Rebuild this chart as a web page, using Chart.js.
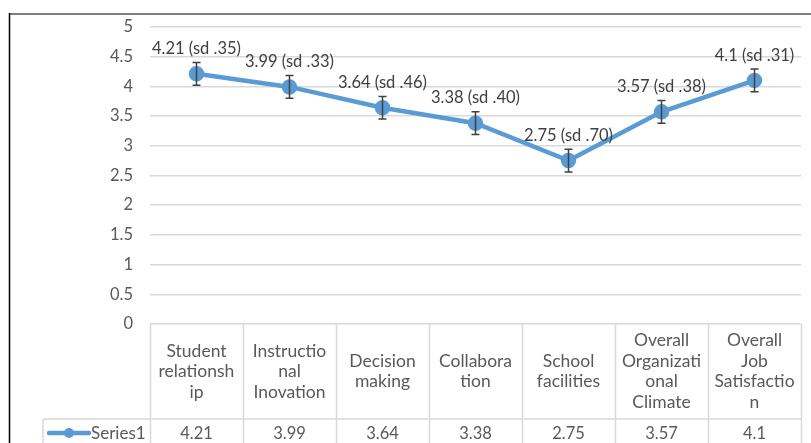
<!DOCTYPE html>
<html>
<head>
<meta charset="utf-8">
<script src="https://cdn.jsdelivr.net/npm/chart.js@4"></script>
<style>
  html, body { margin: 0; padding: 0; background: #fff; }
  #wrap { width: 811px; height: 443px; position: relative; }
</style>
</head>
<body>
<div id="wrap"><canvas id="chart"></canvas></div>
<script>
// category names, wrapped as in the data table
var categories = [
    ["Student", "relationsh", "ip"],
    ["Instructio", "nal", "Inovation"],
    ["Decision", "making"],
    ["Collabora", "tion"],
    ["School", "facilities"],
    ["Overall", "Organizati", "onal", "Climate"],
    ["Overall", "Job", "Satisfactio", "n"]
];
var series1 = [4.21, 3.99, 3.64, 3.38, 2.75, 3.57, 4.1];
var sdText = [".35", ".33", ".46", ".40", ".70", ".38", ".31"];
var errorValues = [0.19, 0.19, 0.19, 0.19, 0.19, 0.19, 0.19];
var yTicks = [0, 0.5, 1, 1.5, 2, 2.5, 3, 3.5, 4, 4.5, 5];

var FONT = "Lato, sans-serif";
var blue = "#5b9bd5";
var gridColor = "#d9d9d9";
var textColor = "#595959";

// frame, error bars, point labels and the data table under the plot
var excelBits = {
    id: 'excelBits',
    beforeDraw: function(chart) {
        var ctx = chart.ctx;
        ctx.save();
        ctx.fillStyle = "#fff";
        ctx.fillRect(0, 0, chart.width, chart.height);
        ctx.strokeStyle = "#808080";
        ctx.lineWidth = 2;
        ctx.beginPath();
        ctx.moveTo(9, 14);
        ctx.lineTo(chart.width, 14);
        ctx.stroke();
        ctx.strokeStyle = "#000";
        ctx.lineWidth = 1.5;
        ctx.beginPath();
        ctx.moveTo(9.5, 13);
        ctx.lineTo(9.5, chart.height);
        ctx.stroke();
        ctx.restore();
    },
    afterDatasetsDraw: function(chart) {
        var ctx = chart.ctx;
        var x = chart.scales.x, y = chart.scales.y;
        var area = chart.chartArea;
        ctx.save();

        // error bars
        ctx.strokeStyle = "#404040";
        ctx.lineWidth = 1.5;
        series1.forEach(function(v, i) {
            var px = x.getPixelForValue(i);
            var top = y.getPixelForValue(v + errorValues[i]);
            var bot = y.getPixelForValue(v - errorValues[i]);
            ctx.beginPath();
            ctx.moveTo(px, top); ctx.lineTo(px, bot);
            ctx.moveTo(px - 4, top); ctx.lineTo(px + 4, top);
            ctx.moveTo(px - 4, bot); ctx.lineTo(px + 4, bot);
            ctx.stroke();
        });

        // point labels
        ctx.fillStyle = "#404040";
        ctx.font = "16.5px " + FONT;
        ctx.textAlign = "center";
        ctx.textBaseline = "middle";
        series1.forEach(function(v, i) {
            var px = x.getPixelForValue(i);
            var py = y.getPixelForValue(v);
            ctx.fillText(v + " (sd " + sdText[i] + ")", px, py - 25);
        });

        // data table
        var colW = (area.right - area.left) / categories.length;
        var headTop = area.bottom;
        var headBot = headTop + 95;
        var legendLeft = 43;
        ctx.strokeStyle = gridColor;
        ctx.lineWidth = 1.5;
        ctx.beginPath();
        for (var c = 0; c <= categories.length; c++) {
            var lx = Math.round(area.left + c * colW) + 0.5;
            ctx.moveTo(lx, headTop);
            ctx.lineTo(lx, chart.height);
        }
        ctx.moveTo(legendLeft, headBot);
        ctx.lineTo(area.right, headBot);
        ctx.moveTo(legendLeft, headBot);
        ctx.lineTo(legendLeft, chart.height);
        ctx.stroke();

        ctx.fillStyle = textColor;
        ctx.font = "17.5px " + FONT;
        var lh = 20.5;
        categories.forEach(function(lines, i) {
            var cx = x.getPixelForValue(i);
            var mid = (headTop + headBot) / 2;
            var start = mid - (lines.length - 1) * lh / 2;
            lines.forEach(function(t, k) {
                ctx.fillText(t, cx, start + k * lh);
            });
        });
        ctx.font = "16.5px " + FONT;
        series1.forEach(function(v, i) {
            ctx.fillText(String(v), x.getPixelForValue(i), headBot + 15);
        });

        // legend key in the table
        var ky = headBot + 14;
        ctx.strokeStyle = blue;
        ctx.lineWidth = 4.5;
        ctx.lineCap = "round";
        ctx.beginPath();
        ctx.moveTo(49, ky); ctx.lineTo(89, ky);
        ctx.stroke();
        ctx.fillStyle = blue;
        ctx.beginPath();
        ctx.arc(69, ky, 5, 0, Math.PI * 2);
        ctx.fill();
        ctx.fillStyle = textColor;
        ctx.textAlign = "left";
        ctx.font = "17px " + FONT;
        ctx.fillText("Series1", 91, ky + 1);

        ctx.restore();
    }
};

new Chart(document.getElementById('chart'), {
    type: 'line',
    data: {
        labels: categories,
        datasets: [{
            label: "Series1",
            data: series1,
            borderColor: blue,
            backgroundColor: blue,
            borderWidth: 4.5,
            pointRadius: 5.5,
            pointHoverRadius: 5.5,
            pointBackgroundColor: blue,
            pointBorderColor: blue,
            tension: 0
        }]
    },
    options: {
        responsive: true,
        maintainAspectRatio: false,
        animation: false,
        events: [],
        layout: { padding: { left: 0, right: 8, top: 26, bottom: 119 } },
        plugins: {
            legend: { display: false },
            tooltip: { enabled: false }
        },
        scales: {
            x: {
                type: 'category',
                display: false,
                offset: true
            },
            y: {
                min: 0,
                max: 5,
                afterBuildTicks: function(scale) {
                    scale.ticks = yTicks.map(function(v) { return { value: v }; });
                },
                afterFit: function(scale) { scale.width = 150; },
                border: { display: false },
                grid: { color: gridColor, lineWidth: 1.5, drawTicks: false },
                ticks: {
                    padding: 17,
                    color: textColor,
                    font: { family: FONT, size: 16.5 },
                    callback: function(v) { return String(v); }
                }
            }
        }
    },
    plugins: [excelBits]
});
</script>
</body>
</html>
